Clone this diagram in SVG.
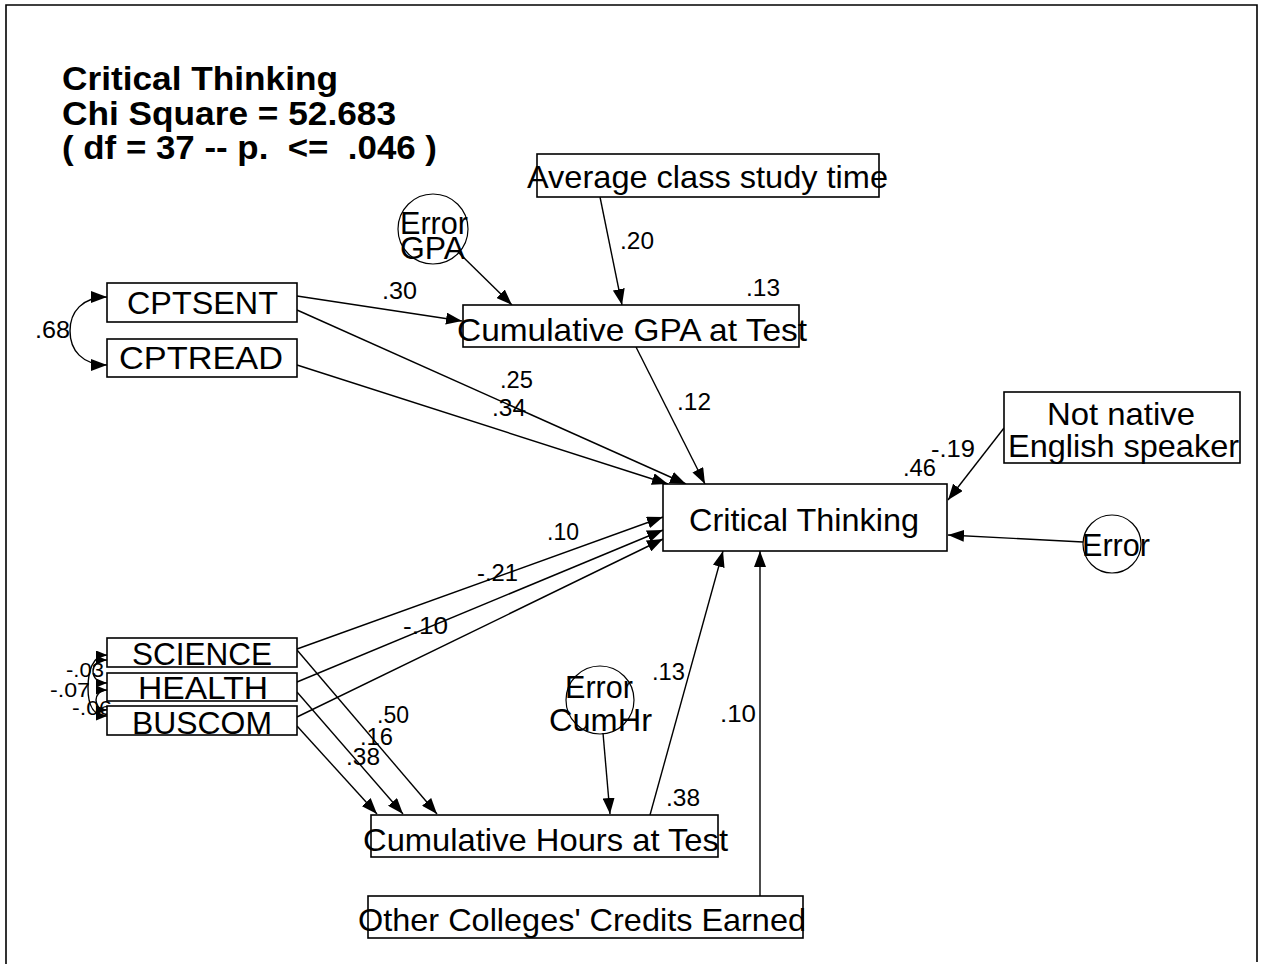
<svg xmlns="http://www.w3.org/2000/svg" width="1265" height="964" viewBox="0 0 1265 964">
<style>
text{font-family:"Liberation Sans",Arial,sans-serif;fill:#000;white-space:pre}
.t{font-size:33px;font-weight:bold}
.n{font-size:32px}
.l{font-size:24px}
.s{font-size:21px}
.box{fill:#fff;stroke:#000;stroke-width:1.6}
.err{fill:none;stroke:#000;stroke-width:1.2}
.c{fill:none;stroke:#000;stroke-width:1.4;marker-end:url(#ah)}
.cs{fill:none;stroke:#000;stroke-width:1.4;marker-start:url(#as);marker-end:url(#as)}
.fr{fill:none;stroke:#000;stroke-width:1.6}
</style>
<defs>
<marker id="ah" viewBox="0 0 16 12" refX="16" refY="6" markerWidth="16" markerHeight="12" markerUnits="userSpaceOnUse" orient="auto-start-reverse"><path d="M0,0 L16,6 L0,12 z" fill="#000"/></marker>
<marker id="as" viewBox="0 0 11 9" refX="11" refY="4.5" markerWidth="11" markerHeight="9" markerUnits="userSpaceOnUse" orient="auto-start-reverse"><path d="M0,0 L11,4.5 L0,9 z" fill="#000"/></marker>
</defs>
<rect width="1265" height="964" fill="#fff"/>
<path class="fr" d="M6,964 L6,5 L1257,5 L1257,962"/>
<g id="title">
<text class="t" x="62" y="90" textLength="276" lengthAdjust="spacingAndGlyphs">Critical Thinking</text>
<text class="t" x="62" y="125" textLength="334" lengthAdjust="spacingAndGlyphs">Chi Square = 52.683</text>
<text class="t" x="62" y="159" textLength="375" lengthAdjust="spacingAndGlyphs">( df = 37 -- p.  &lt;=  .046 )</text>
</g>
<g id="connectors">
<line class="c" x1="600" y1="197" x2="622" y2="305"/>
<line class="c" x1="458" y1="252" x2="512" y2="305"/>
<line class="c" x1="297" y1="296" x2="462" y2="321"/>
<line class="c" x1="297" y1="310" x2="686" y2="484"/>
<line class="c" x1="297" y1="365" x2="668" y2="484"/>
<line class="c" x1="636" y1="347" x2="705" y2="484"/>
<line class="c" x1="1004" y1="428" x2="948" y2="500"/>
<line class="c" x1="1083" y1="542" x2="948" y2="535"/>
<line class="c" x1="297" y1="649" x2="663" y2="517"/>
<line class="c" x1="297" y1="682" x2="663" y2="530"/>
<line class="c" x1="297" y1="717" x2="663" y2="539"/>
<line class="c" x1="297" y1="650" x2="437" y2="814"/>
<line class="c" x1="297" y1="692" x2="403" y2="814"/>
<line class="c" x1="297" y1="726" x2="377" y2="814"/>
<line class="c" x1="603" y1="733" x2="610" y2="814"/>
<line class="c" x1="650" y1="815" x2="723" y2="551"/>
<line class="c" x1="760" y1="896" x2="760" y2="551"/>
<path class="c" style="marker-start:url(#ah)" d="M107,297 C82,297 70,312 70,331 C70,350 82,365 107,365"/>
<path class="cs" d="M107,660 C97,660 93,666 93,671 C93,677 97,683 107,683"/>
<path class="cs" d="M107,690 C99,690 96,696 96,700 C96,705 99,710 107,710"/>
<path class="cs" d="M107,655 C92,655 88,672 88,688 C88,704 92,716 107,716"/>
</g>
<g id="labels">
<text class="l" x="35" y="338" textLength="35" lengthAdjust="spacingAndGlyphs">.68</text>
<text class="l" x="382" y="299" textLength="35" lengthAdjust="spacingAndGlyphs">.30</text>
<text class="l" x="620" y="249" textLength="34" lengthAdjust="spacingAndGlyphs">.20</text>
<text class="l" x="746" y="296" textLength="34" lengthAdjust="spacingAndGlyphs">.13</text>
<text class="l" x="500" y="388" textLength="33" lengthAdjust="spacingAndGlyphs">.25</text>
<text class="l" x="492" y="416" textLength="34" lengthAdjust="spacingAndGlyphs">.34</text>
<text class="l" x="677" y="410" textLength="34" lengthAdjust="spacingAndGlyphs">.12</text>
<text class="l" x="903" y="476" textLength="33" lengthAdjust="spacingAndGlyphs">.46</text>
<text class="l" x="931" y="457" textLength="44" lengthAdjust="spacingAndGlyphs">-.19</text>
<text class="l" x="547" y="540" textLength="32" lengthAdjust="spacingAndGlyphs">.10</text>
<text class="l" x="477" y="581" textLength="41" lengthAdjust="spacingAndGlyphs">-.21</text>
<text class="l" x="403" y="634" textLength="45" lengthAdjust="spacingAndGlyphs">-.10</text>
<text class="l" x="377" y="723" textLength="32" lengthAdjust="spacingAndGlyphs">.50</text>
<text class="l" x="360" y="745" textLength="33" lengthAdjust="spacingAndGlyphs">.16</text>
<text class="l" x="346" y="765" textLength="34" lengthAdjust="spacingAndGlyphs">.38</text>
<text class="l" x="652" y="680" textLength="33" lengthAdjust="spacingAndGlyphs">.13</text>
<text class="l" x="666" y="806" textLength="34" lengthAdjust="spacingAndGlyphs">.38</text>
<text class="l" x="720" y="722" textLength="36" lengthAdjust="spacingAndGlyphs">.10</text>
<text class="s" x="66" y="677" textLength="38" lengthAdjust="spacingAndGlyphs">-.03</text>
<text class="s" x="50" y="697" textLength="40" lengthAdjust="spacingAndGlyphs">-.07</text>
<text class="s" x="72" y="715" textLength="40" lengthAdjust="spacingAndGlyphs">-.06</text>
</g>
<g id="avg-study-time">
<rect class="box" x="537" y="154" width="342" height="43"/>
<text class="n" x="527" y="188" textLength="361" lengthAdjust="spacingAndGlyphs">Average class study time</text>
</g>
<g id="error-gpa">
<circle class="err" cx="433" cy="229" r="35"/>
<text class="n" x="400" y="234" textLength="68" lengthAdjust="spacingAndGlyphs">Error</text>
<text class="n" x="400" y="259" textLength="65" lengthAdjust="spacingAndGlyphs">GPA</text>
</g>
<g id="cum-gpa">
<rect class="box" x="463" y="305" width="336" height="42"/>
<text class="n" x="457" y="341" textLength="350" lengthAdjust="spacingAndGlyphs">Cumulative GPA at Test</text>
</g>
<g id="cptsent">
<rect class="box" x="107" y="283" width="190" height="39"/>
<text class="n" x="127" y="314" textLength="151" lengthAdjust="spacingAndGlyphs">CPTSENT</text>
</g>
<g id="cptread">
<rect class="box" x="107" y="339" width="190" height="38"/>
<text class="n" x="119" y="369" textLength="164" lengthAdjust="spacingAndGlyphs">CPTREAD</text>
</g>
<g id="critical-thinking">
<rect class="box" x="663" y="484" width="284" height="67"/>
<text class="n" x="689" y="531" textLength="230" lengthAdjust="spacingAndGlyphs">Critical Thinking</text>
</g>
<g id="not-native">
<rect class="box" x="1004" y="392" width="236" height="71"/>
<text class="n" x="1047" y="425" textLength="148" lengthAdjust="spacingAndGlyphs">Not native</text>
<text class="n" x="1008" y="457" textLength="231" lengthAdjust="spacingAndGlyphs">English speaker</text>
</g>
<g id="error-ct">
<circle class="err" cx="1112" cy="544" r="29"/>
<text class="n" x="1082" y="556" textLength="68" lengthAdjust="spacingAndGlyphs">Error</text>
</g>
<g id="science">
<rect class="box" x="107" y="638" width="190" height="29"/>
<text class="n" x="132" y="665" textLength="140" lengthAdjust="spacingAndGlyphs">SCIENCE</text>
</g>
<g id="health">
<rect class="box" x="107" y="673" width="190" height="28"/>
<text class="n" x="138" y="699" textLength="130" lengthAdjust="spacingAndGlyphs">HEALTH</text>
</g>
<g id="buscom">
<rect class="box" x="107" y="706" width="190" height="29"/>
<text class="n" x="132" y="734" textLength="140" lengthAdjust="spacingAndGlyphs">BUSCOM</text>
</g>
<g id="error-cumhr">
<circle class="err" cx="600" cy="700" r="34"/>
<text class="n" x="565" y="698" textLength="68" lengthAdjust="spacingAndGlyphs">Error</text>
<text class="n" x="549" y="731" textLength="103" lengthAdjust="spacingAndGlyphs">CumHr</text>
</g>
<g id="cum-hours">
<rect class="box" x="371" y="815" width="347" height="42"/>
<text class="n" x="363" y="851" textLength="365" lengthAdjust="spacingAndGlyphs">Cumulative Hours at Test</text>
</g>
<g id="other-credits">
<rect class="box" x="368" y="896" width="435" height="42"/>
<text class="n" x="358" y="931" textLength="448" lengthAdjust="spacingAndGlyphs">Other Colleges' Credits Earned</text>
</g>
</svg>
